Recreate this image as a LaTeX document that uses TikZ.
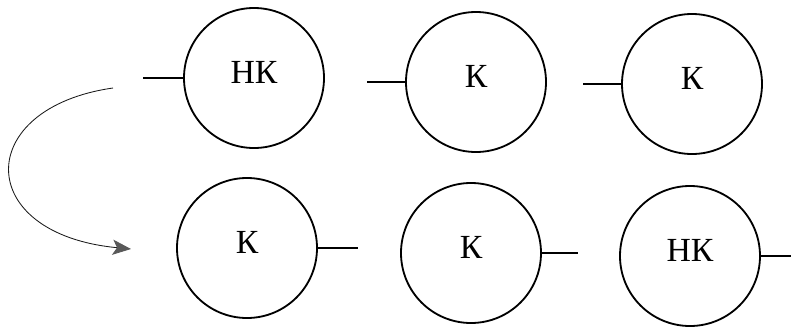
\documentclass[tikz,border=0pt]{standalone}
\usepackage{fontspec}
\setmainfont{Liberation Serif}
\usetikzlibrary{arrows.meta}
\tikzset{
  ring/.style={draw,circle,line width=1.3pt,minimum size=35mm,inner sep=0pt,
    font=\fontsize{24}{27}\selectfont,text depth=3mm},
  stub/.style={line width=1.1pt}
}
\begin{document}
\begin{tikzpicture}[x=0.25mm,y=-0.25mm,>={Stealth[length=4.6mm,width=3.8mm,inset=1.1mm,color=black!65,fill=black!65]}]
\useasboundingbox (0,0) rectangle (791,326);

\node[ring] (t1) at (254,78) {НК};
\node[ring] (t2) at (476,82) {К};
\node[ring] (t3) at (692,84) {К};

\node[ring] (b1) at (247,248) {К};
\node[ring] (b2) at (471,253) {К};
\node[ring] (b3) at (690,256) {НК};

\coordinate (s1) at (143,78);
\coordinate (s2) at (367,82);
\coordinate (s3) at (583,84);
\coordinate (e1) at (358,248);
\coordinate (e2) at (578,253);
\coordinate (e3) at (791,256);

\draw[stub] (s1)--(t1.west);
\draw[stub] (s2)--(t2.west);
\draw[stub] (s3)--(t3.west);
\draw[stub] (b1.east)--(e1);
\draw[stub] (b2.east)--(e2);
\draw[stub] (b3.east)--(e3);

\coordinate (from) at (113,88);
\coordinate (to) at (131,249);
\draw[->,line width=0.6pt,black!90] (from) .. controls (-27,108) and (-27,234) .. (to);
\end{tikzpicture}
\end{document}
